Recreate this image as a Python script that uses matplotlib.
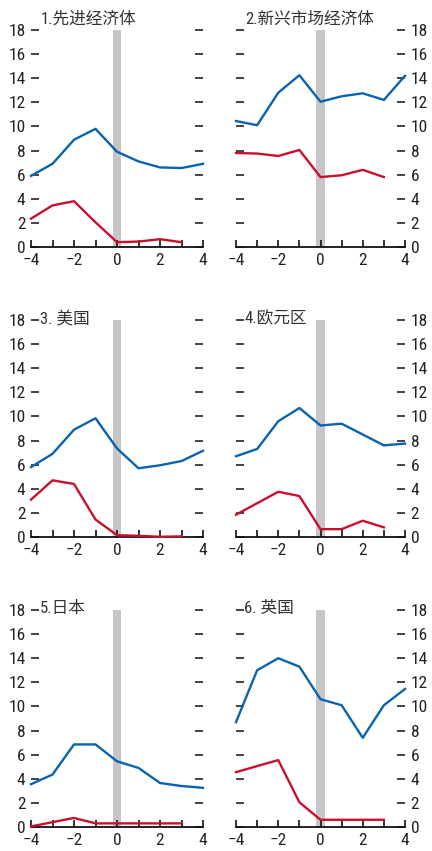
import matplotlib
matplotlib.use("Agg")
import matplotlib.pyplot as plt

plt.rcParams['font.family'] = ['Roboto Condensed', 'Liberation Sans', 'Noto Sans CJK SC', 'DejaVu Sans']

years = [-4, -3, -2, -1, 0, 1, 2, 3, 4]
red_years = [-4, -3, -2, -1, 0, 1, 2, 3]

titles = ["1.先进经济体", "2.新兴市场经济体", "3. 美国", "4.欧元区", "5.日本", "6. 英国"]

blue_series = [
    [5.9, 6.9, 8.9, 9.8, 7.9, 7.1, 6.6, 6.55, 6.9],
    [10.45, 10.1, 12.8, 14.25, 12.05, 12.5, 12.75, 12.2, 14.2],
    [5.8, 6.9, 8.9, 9.85, 7.35, 5.7, 5.95, 6.3, 7.15],
    [6.7, 7.3, 9.6, 10.7, 9.25, 9.4, 8.5, 7.6, 7.75],
    [3.55, 4.35, 6.85, 6.85, 5.45, 4.9, 3.65, 3.4, 3.25],
    [8.7, 13.0, 14.0, 13.3, 10.6, 10.1, 7.4, 10.1, 11.45],
]

red_series = [
    [2.35, 3.45, 3.8, 2.05, 0.4, 0.45, 0.65, 0.4],
    [7.8, 7.75, 7.55, 8.05, 5.8, 5.95, 6.4, 5.8],
    [3.1, 4.7, 4.4, 1.45, 0.15, 0.1, 0.02, 0.05],
    [1.85, 2.8, 3.75, 3.4, 0.65, 0.65, 1.35, 0.8],
    [0.05, 0.4, 0.75, 0.3, 0.3, 0.3, 0.3, 0.3],
    [4.55, 5.05, 5.55, 2.05, 0.6, 0.6, 0.6, 0.6],
]

yticks = list(range(0, 20, 2))
xticks = [-4, -2, 0, 2, 4]

BLUE = "#0b62ae"
RED = "#c8102e"
GRAY = "#c6c6c8"
TEXT = "#222222"

fig = plt.figure(figsize=(4.32, 8.51), dpi=100)

lefts = [31 / 432, 236 / 432]
widths = [172 / 432, 169 / 432]
bottoms = [1 - 247 / 851, 1 - 537 / 851, 1 - 827 / 851]
height = 217 / 851

for i in range(6):
    row, col = divmod(i, 2)
    ax = fig.add_axes([lefts[col], bottoms[row], widths[col], height])

    # shaded band marking year 0
    ax.axvspan(-0.2, 0.2, color=GRAY, lw=0, zorder=1)
    ax.plot(years, blue_series[i], color=BLUE, lw=1.7, zorder=3, clip_on=False)
    ax.plot(red_years, red_series[i], color=RED, lw=1.7, zorder=3, clip_on=False)

    ax.set_xlim(-4, 4)
    ax.set_ylim(0, 18)
    ax.set_xticks(xticks)
    ax.set_xticks(years, minor=True)
    ax.set_xticklabels(["\u22124", "\u22122", "0", "2", "4"])
    ax.set_yticks(yticks)

    for side in ["top", "left", "right"]:
        ax.spines[side].set_visible(False)
    ax.spines["bottom"].set_linewidth(1.3)
    ax.spines["bottom"].set_color("#111111")

    ax.tick_params(axis="x", which="both", direction="in", length=5, width=1.2,
                   color="#111111", labelsize=12.5, pad=4, labelcolor=TEXT)
    ax.tick_params(axis="y", direction="in", length=6, width=1.1, color="#111111",
                   left=True, right=True, labelleft=(col == 0), labelright=(col == 1),
                   labelsize=12.5, pad=4, labelcolor=TEXT)

    if row == 0:
        ax.text(-3.55, 18.9, titles[i], fontsize=12, color="#333333",
                va="center", ha="left")
    else:
        ax.text(-3.6, 18.1, titles[i], fontsize=12, color="#333333",
                va="center", ha="left")

fig.savefig("out.png", dpi=100)
